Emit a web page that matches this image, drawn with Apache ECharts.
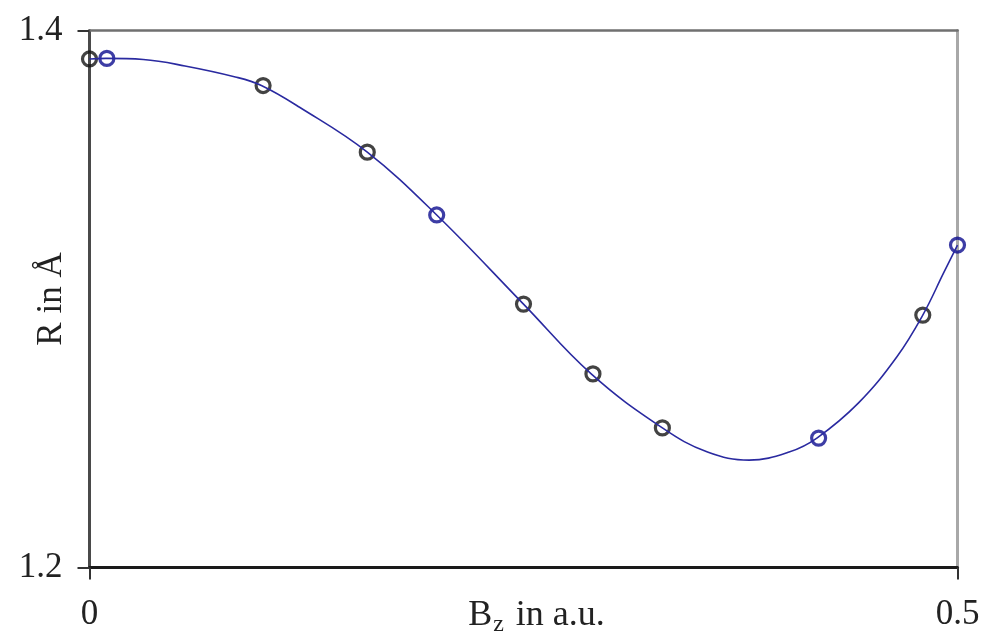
<!DOCTYPE html>
<html>
<head>
<meta charset="utf-8">
<title>R vs Bz</title>
<script src="https://cdn.jsdelivr.net/npm/echarts@6/dist/echarts.min.js"></script>
<style>
  html, body { margin: 0; padding: 0; background: #fff; }
  #chart { width: 991px; height: 642px; }
</style>
</head>
<body>
<div id="chart"></div>
<script>
// Computed points (open circles), two groups
const blackBz = [0, 0.1, 0.16, 0.25, 0.29, 0.33, 0.48];
const blackR  = [1.3894, 1.3795, 1.3547, 1.2981, 1.2721, 1.2520, 1.2940];
const blueBz  = [0.01, 0.2, 0.42, 0.5];
const blueR   = [1.3896, 1.3313, 1.2482, 1.3201];

// Fitted curve, sampled along Bz
const fitBz = [0, 0.0095, 0.031, 0.055, 0.084, 0.099, 0.121, 0.16, 0.2, 0.25, 0.289, 0.33, 0.356, 0.38, 0.403, 0.419, 0.443, 0.465, 0.48, 0.492, 0.5];
const fitR  = [1.3894, 1.3896, 1.3892, 1.3868, 1.3827, 1.3795, 1.3714, 1.3547, 1.3313, 1.2981, 1.2721, 1.2520, 1.2430, 1.2400, 1.2430, 1.2482, 1.2613, 1.2784, 1.2940, 1.3097, 1.3201];

// Axis ranges and tick labels
const xTicks = [0, 0.5];
const yTicks = [1.2, 1.4];

const zip = (a, b) => a.map((v, i) => [v, b[i]]);
const FONT = '"Liberation Serif", "DejaVu Serif", serif';

const chart = echarts.init(document.getElementById('chart'), null, { renderer: 'canvas' });

chart.setOption({
  animation: false,
  backgroundColor: '#ffffff',
  grid: {
    left: 89.5, right: 33.5, top: 30.5, bottom: 74.5,
    containLabel: false,
    outerBoundsMode: 'none'
  },
  xAxis: [
    {
      type: 'value',
      min: xTicks[0], max: xTicks[1], interval: 0.5,
      position: 'bottom',
      name: '{b|B}{s|z}{b| in a.u.}',
      nameLocation: 'middle',
      nameGap: 27,
      nameMoveOverlap: false,
      nameTextStyle: {
        padding: [0, 0, 0, 26],
        rich: {
          b: { fontFamily: FONT, fontSize: 36, color: '#222' },
          s: { fontFamily: FONT, fontSize: 24, color: '#222', padding: [18, 3, 0, 1] }
        }
      },
      axisLine: { show: true, onZero: false, lineStyle: { color: '#1a1a1a', width: 3 } },
      axisTick: { show: true, inside: false, length: 12, lineStyle: { color: '#333', width: 2 } },
      axisLabel: {
        margin: 30, fontFamily: FONT, fontSize: 35, color: '#222',
        formatter: v => String(v)
      },
      splitLine: { show: false }
    },
    {
      type: 'value',
      min: xTicks[0], max: xTicks[1],
      position: 'top',
      axisLine: { show: true, onZero: false, lineStyle: { color: '#707070', width: 2.5 } },
      axisTick: { show: false }, axisLabel: { show: false }, splitLine: { show: false }
    }
  ],
  yAxis: [
    {
      type: 'value',
      min: yTicks[0], max: yTicks[1], interval: 0.2,
      position: 'left',
      name: 'R in Å',
      nameLocation: 'middle',
      nameGap: 20,
      nameMoveOverlap: false,
      nameTextStyle: { fontFamily: FONT, fontSize: 35, color: '#222' },
      axisLine: { show: true, onZero: false, lineStyle: { color: '#4a4a4a', width: 3 } },
      axisTick: { show: true, inside: false, length: 12, lineStyle: { color: '#333', width: 2 } },
      axisLabel: {
        margin: 27, fontFamily: FONT, fontSize: 35, color: '#222',
        formatter: v => v.toFixed(1)
      },
      splitLine: { show: false }
    },
    {
      type: 'value',
      min: yTicks[0], max: yTicks[1],
      position: 'right',
      axisLine: { show: true, onZero: false, lineStyle: { color: '#a8a8a8', width: 3 } },
      axisTick: { show: false }, axisLabel: { show: false }, splitLine: { show: false }
    }
  ],
  series: [
    {
      name: 'fit',
      type: 'line',
      data: zip(fitBz, fitR),
      smooth: 0.4,
      showSymbol: false,
      symbol: 'none',
      lineStyle: { color: '#2a2aa0', width: 1.6 },
      z: 3
    },
    {
      name: 'set A',
      type: 'scatter',
      data: zip(blackBz, blackR),
      symbol: 'circle',
      symbolSize: 14,
      itemStyle: { color: 'rgba(255,255,255,0)', borderColor: '#141414', borderWidth: 3.2 },
      z: 2
    },
    {
      name: 'set B',
      type: 'scatter',
      data: zip(blueBz, blueR),
      symbol: 'circle',
      symbolSize: 14,
      itemStyle: { color: 'rgba(255,255,255,0)', borderColor: '#0c0c8e', borderWidth: 3.2 },
      z: 2
    }
  ]
});
</script>
</body>
</html>
